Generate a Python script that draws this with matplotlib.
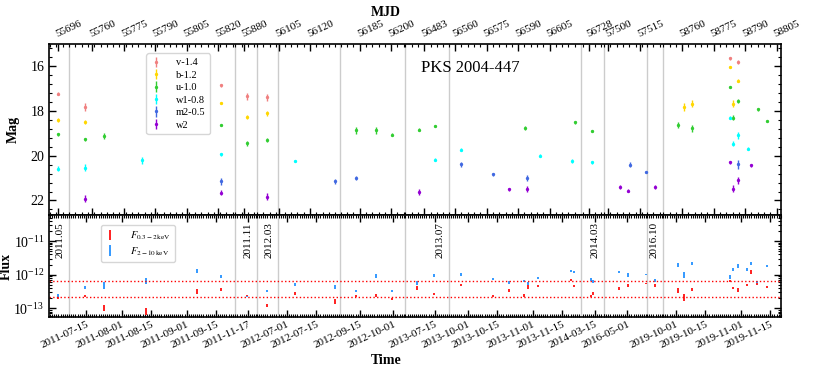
import numpy as np
import matplotlib
matplotlib.use("Agg")
import matplotlib.pyplot as plt
from matplotlib.ticker import FixedLocator, LogLocator, MultipleLocator, NullFormatter

plt.rcParams['font.family'] = ['Liberation Serif', 'DejaVu Serif']
plt.rcParams['mathtext.fontset'] = 'stix'

# ---- broken time axis: observing windows (MJD start, end) ----
seg_start = [55691.5, 55748.9, 55875.8, 55985.0, 56104.7, 56175.5, 56473.7, 56557.0, 56724.3, 57498.0, 57666.0, 58750.9]
seg_end   = [55701.0, 55828.0, 55886.3, 55995.0, 56134.2, 56206.5, 56494.7, 56620.0, 56735.3, 57518.5, 57673.6, 58807.1]
seg_names = ['2011.05', '', '2011.11', '2012.03', '', '', '2013.07', '', '2014.03', '', '2016.10', '']

mjd_ticks = [55696, 55760, 55775, 55790, 55805, 55820, 55880, 56105, 56120, 56185, 56200, 56483,
             56560, 56575, 56590, 56605, 56728, 57500, 57515, 58760, 58775, 58790, 58805]
date_labels = ['2011-07-15', '2011-08-01', '2011-08-15', '2011-09-01', '2011-09-15', '2011-11-17',
               '2012-07-01', '2012-07-15', '2012-09-15', '2012-10-01', '2013-07-15', '2013-10-01',
               '2013-10-15', '2013-11-01', '2013-11-15', '2014-03-15', '2016-05-01', '2019-10-01',
               '2019-10-15', '2019-11-01', '2019-11-15']
date_mjd = [55757, 55774, 55788, 55805, 55819, 55882, 56109, 56123, 56185, 56201, 56488, 56566,
            56580, 56597, 56611, 56731, 57509, 58757, 58771, 58788, 58802]

# ---- UVOT magnitudes (mjd, mag, err) ----
v_t = [55696, 55756.5, 55821.3, 55881.5, 55990, 58782.8, 58786.4]
v_m = [17.22, 17.81, 16.85, 17.34, 17.38, 15.63, 15.80]
v_e = [0.07, 0.18, 0.07, 0.15, 0.15, 0.07, 0.10]

b_t = [55696, 55756.5, 55821.3, 55881.5, 55990, 58760.9, 58764.7, 58782.8, 58784.2, 58786.4]
b_m = [18.41, 18.50, 17.63, 18.26, 18.10, 17.83, 17.67, 16.03, 17.67, 16.64]
b_e = [0.10, 0.10, 0.05, 0.10, 0.10, 0.18, 0.15, 0.05, 0.15, 0.08]

u_t = [55696, 55756.5, 55765.6, 55821.3, 55881.5, 55990, 56183, 56192.6, 56200.5, 56480.4, 56487.9,
       56593.2, 56617.2, 56729.6, 58758, 58764.7, 58782.8, 58784.2, 58786.4, 58796, 58800.4]
u_m = [19.04, 19.27, 19.12, 18.63, 19.45, 19.30, 18.86, 18.86, 19.05, 18.83, 18.66,
       18.75, 18.51, 18.89, 18.63, 18.78, 16.94, 18.30, 17.56, 17.93, 18.45]
u_e = [0.07, 0.08, 0.12, 0.05, 0.12, 0.10, 0.15, 0.15, 0.05, 0.05, 0.05,
       0.08, 0.05, 0.05, 0.15, 0.15, 0.05, 0.12, 0.10, 0.05, 0.06]

w1_t = [55696, 55756.5, 55783.7, 55821.3, 56112.8, 56487.9, 56562.7, 56600.2, 56615.8, 56729.6,
        58782.8, 58784.2, 58786.4, 58791.2]
w1_m = [20.58, 20.54, 20.20, 19.94, 20.22, 20.17, 19.72, 20.00, 20.24, 20.30, 18.30, 19.46, 19.08, 19.69]
w1_e = [0.12, 0.15, 0.15, 0.08, 0.05, 0.05, 0.05, 0.06, 0.08, 0.06, 0.07, 0.12, 0.15, 0.06]

m2_t = [55821.3, 56131.9, 56183, 56562.7, 56578, 56594.1, 57510.4, 57518, 58786.4]
m2_m = [21.15, 21.15, 21.00, 20.39, 20.83, 21.00, 20.40, 20.73, 20.39]
m2_e = [0.15, 0.10, 0.08, 0.10, 0.08, 0.15, 0.10, 0.03, 0.20]

w2_t = [55756.5, 55821.3, 55990, 56480.4, 56585.6, 56594.1, 57505.7, 57509.6, 57669.8,
        58782.8, 58784.2, 58786.4, 58792.8]
w2_m = [21.92, 21.65, 21.83, 21.62, 21.50, 21.49, 21.40, 21.56, 21.40, 20.29, 21.47, 21.10, 20.43]
w2_e = [0.15, 0.12, 0.15, 0.15, 0.07, 0.15, 0.08, 0.08, 0.10, 0.06, 0.15, 0.15, 0.08]

# ---- XRT fluxes (erg cm^-2 s^-1) ----
fx_t = [55696, 55756.5, 55765.7, 55785.6, 55809.9, 55821.3, 55881.5, 55990, 56112.8, 56131.9,
        56183, 56192.6, 56200.5, 56479.6, 56487.5, 56562.7, 56578.2, 56585.6, 56592.9, 56594.5,
        56599.5, 56615.3, 56616.7, 56729.0, 56730.2, 57505.0, 57509.3, 57518.0, 57669.8,
        58758.0, 58760.9, 58764.7, 58782.8, 58784.3, 58786.4, 58790.7, 58792.6, 58795.5, 58800.3]
soft_f = [2.1e-13, 2.3e-13, 1.0e-13, 8e-14, 3.2e-13, 3.6e-13, 2.3e-13, 1.2e-13, 2.8e-13, 1.6e-13,
          2.3e-13, 2.4e-13, 1.9e-13, 4.0e-13, 2.7e-13, 5.0e-13, 2.4e-13, 3.4e-13, 2.4e-13, 4.3e-13,
          4.5e-13, 6.8e-13, 4.5e-13, 2.3e-13, 2.8e-13, 3.8e-13, 4.7e-13, 5.4e-13, 4.8e-13,
          3.4e-13, 2.1e-13, 3.6e-13, 6.3e-13, 4.0e-13, 3.4e-13, 5.1e-13, 1.2e-12, 5.4e-13, 4.3e-13]
soft_e = [0.06, 0.04, 0.09, 0.1, 0.07, 0.04, 0.03, 0.05, 0.04, 0.07,
          0.04, 0.05, 0.04, 0.05, 0.03, 0.03, 0.03, 0.04, 0.04, 0.06,
          0.03, 0.03, 0.03, 0.03, 0.04, 0.04, 0.05, 0.02, 0.04,
          0.07, 0.1, 0.04, 0.03, 0.04, 0.06, 0.03, 0.05, 0.03, 0.04]
hard_f = [2.4e-13, 4.1e-13, 4.8e-13, 6.5e-13, 1.25e-12, 8.9e-13, 2.2e-13, 3.3e-13, 5.2e-13, 4.3e-13,
          3.2e-13, 9.1e-13, 3.3e-13, 5.6e-13, 9.5e-13, 1.0e-12, 7.4e-13, 5.9e-13, 6.5e-13, 5.4e-13,
          7.9e-13, 1.28e-12, 1.2e-12, 7.2e-13, 6.3e-13, 1.2e-12, 1.0e-12, 1.03e-12, 6.8e-13,
          2.0e-12, 1.0e-12, 2.2e-12, 8.5e-13, 1.4e-12, 1.8e-12, 1.45e-12, 2.2e-12, 6.0e-13, 1.8e-12]
hard_e = [0.05, 0.04, 0.1, 0.08, 0.06, 0.04, 0.02, 0.04, 0.04, 0.06,
          0.03, 0.05, 0.03, 0.06, 0.04, 0.04, 0.03, 0.04, 0.04, 0.05,
          0.04, 0.04, 0.04, 0.04, 0.05, 0.04, 0.06, 0.02, 0.04,
          0.06, 0.09, 0.04, 0.05, 0.04, 0.06, 0.04, 0.04, 0.03, 0.04]
flux_levels = [6.3e-13, 2.2e-13]

# ---- scale for the broken axis ----
bp_m, bp_c = [], []
c = 0.0
for s, e in zip(seg_start, seg_end):
    bp_m += [s, e]
    bp_c += [c, c + (e - s)]
    c += e - s
bp_m = np.array(bp_m); bp_c = np.array(bp_c)
fwd = lambda x: np.interp(x, bp_m, bp_c)
inv = lambda y: np.interp(y, bp_c, bp_m)

fig = plt.figure(figsize=(8.14, 3.70), dpi=100)
ax1 = fig.add_axes([49/814, 1-215/370, 732/814, 171/370])
ax2 = fig.add_axes([49/814, 1-317/370, 732/814, 102/370])
for ax in (ax1, ax2):
    ax.set_xscale('function', functions=(fwd, inv))
    ax.set_xlim(seg_start[0], seg_end[-1])

bands = [('v-1.4', v_t, v_m, v_e, '#f08080'),
         ('b-1.2', b_t, b_m, b_e, '#ffd700'),
         ('u-1.0', u_t, u_m, u_e, '#32cd32'),
         ('w1-0.8', w1_t, w1_m, w1_e, '#00ffff'),
         ('m2-0.5', m2_t, m2_m, m2_e, '#4169e1'),
         ('w2', w2_t, w2_m, w2_e, '#9400d3')]
for lab, t, m, e, col in bands:
    ax1.errorbar(t, m, yerr=e, fmt='o', ms=1.4, color=col, ecolor=col, elinewidth=1.0, label=lab)
ax1.set_ylim(22.65, 15.0)
ax1.yaxis.set_major_locator(MultipleLocator(2))
ax1.yaxis.set_minor_locator(MultipleLocator(0.4))
ax1.set_ylabel('Mag', fontsize=10, fontweight='bold')
ax1.yaxis.set_label_coords(-0.04, 0.5)
ax1.text(0.575, 0.86, 'PKS 2004-447', transform=ax1.transAxes, fontsize=12, ha='center', va='center')
leg1 = ax1.legend(loc='upper left', bbox_to_anchor=(0.126, 0.975), fontsize=7.5, frameon=True,
                  handlelength=1.0, labelspacing=0.3, borderpad=0.45, handletextpad=1.4)
leg1.get_frame().set_edgecolor('#cccccc')

sf = np.array(soft_f); se = np.array(soft_e)
hf = np.array(hard_f); he = np.array(hard_e)
ax2.errorbar(fx_t, sf, yerr=[sf*(1-10**-se), sf*(10**se-1)],
             fmt='none', ecolor='#ff2020', elinewidth=1.4, label=r'$F_{0.3-2\,\mathrm{keV}}$')
ax2.errorbar(fx_t, hf, yerr=[hf*(1-10**-he), hf*(10**he-1)],
             fmt='none', ecolor='#3399ff', elinewidth=1.4, label=r'$F_{2-10\,\mathrm{keV}}$')
for lv in flux_levels:
    ax2.axhline(lv, color='red', ls=':', lw=1.0)
ax2.set_yscale('log')
ax2.set_ylim(5.5e-14, 6e-11)
ax2.yaxis.set_major_locator(LogLocator(base=10, numticks=10))
ax2.yaxis.set_minor_locator(LogLocator(base=10, subs=np.arange(2, 10), numticks=10))
ax2.yaxis.set_minor_formatter(NullFormatter())
ax2.set_ylabel('Flux', fontsize=10, fontweight='bold')
ax2.yaxis.set_label_coords(-0.05, 0.5)
leg2 = ax2.legend(loc='upper left', bbox_to_anchor=(0.064, 0.95), fontsize=7.5, frameon=True,
                  handlelength=1.0, labelspacing=0.3, borderpad=0.4, handletextpad=1.4)
leg2.get_frame().set_edgecolor('#cccccc')

# segment boundaries
for ax in (ax1, ax2):
    for e in seg_end[:-1]:
        ax.axvline(e, color='#cccccc', lw=1.0, zorder=0)
for e, name in zip(seg_end, seg_names):
    if name:
        ax2.annotate(name, xy=(e, 0.93), xycoords=('data', 'axes fraction'), xytext=(-3, 0),
                     textcoords='offset points', rotation=90, ha='right', va='top', fontsize=8)

# x ticks
minor_top = np.concatenate([np.arange(np.ceil(s), e, 3) for s, e in zip(seg_start, seg_end)])
minor_bot = np.concatenate([np.arange(np.ceil(s), e, 1) for s, e in zip(seg_start, seg_end)])
ax1.xaxis.set_major_locator(FixedLocator(mjd_ticks))
ax1.xaxis.set_minor_locator(FixedLocator(minor_top))
ax1.set_xticks(mjd_ticks)
ax1.set_xticklabels([str(t) for t in mjd_ticks], rotation=25, ha='left', rotation_mode='anchor', fontsize=8)
ax1.xaxis.set_label_position('top')
ax1.set_xlabel('MJD', fontsize=10, fontweight='bold')
ax1.xaxis.set_label_coords(0.46, 1.165)

ax2.xaxis.set_major_locator(FixedLocator(date_mjd))
ax2.xaxis.set_minor_locator(FixedLocator(minor_bot))
ax2.set_xticks(date_mjd)
ax2.set_xticklabels(date_labels, rotation=25, ha='right', rotation_mode='anchor', fontsize=8)
ax2.tick_params(axis='x', which='major', pad=2)
ax2.set_xlabel('Time', fontsize=10, fontweight='bold')
ax2.xaxis.set_label_coords(0.46, -0.36)
ax1.tick_params(axis='x', which='both', bottom=True, top=True, labelbottom=False, labeltop=True, direction='in')
ax2.tick_params(axis='x', which='both', bottom=True, top=True, labelbottom=True, labeltop=False, direction='in')
for ax in (ax1, ax2):
    ax.tick_params(axis='y', which='both', left=True, right=True, direction='in', labelsize=10)
    ax.tick_params(which='major', length=5, width=1)
    ax.tick_params(which='minor', length=2.5, width=0.8)
    for sp in ax.spines.values():
        sp.set_linewidth(1.2)

fig.savefig('out.png', dpi=100)
